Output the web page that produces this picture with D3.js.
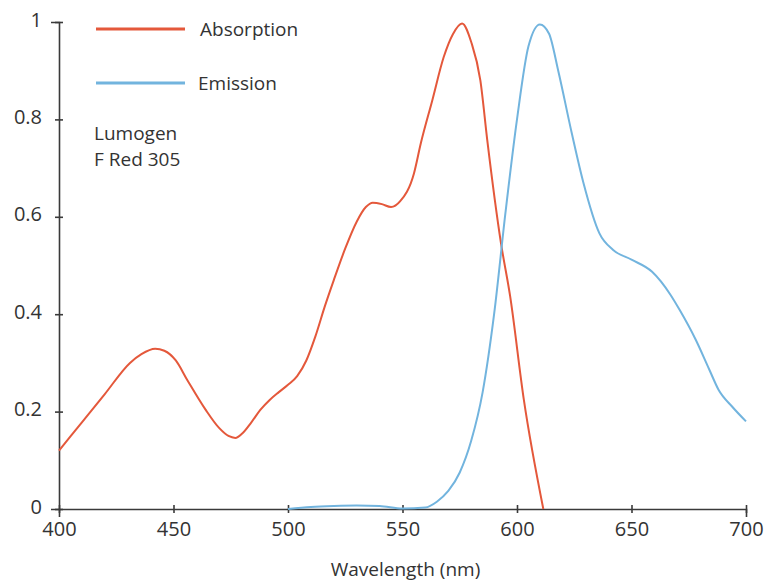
<!DOCTYPE html>
<html>
<head>
<meta charset="utf-8">
<script src="https://cdn.jsdelivr.net/npm/d3@7"></script>
<style>
  body { margin: 0; background: #fff; }
  text { font-family: "Open Sans", "Liberation Sans", Arial, sans-serif; fill: #333; }
</style>
</head>
<body>
<div id="chart"></div>
<script>
// Absorption spectrum (wavelength nm, normalised value)
const absWave = [400, 410, 420, 431, 436, 442, 446, 451, 456, 464, 470, 474, 477, 480, 484, 488, 492, 496, 500, 504, 508, 512, 516, 520, 525, 530, 534, 537, 541, 545, 549, 555, 558, 563, 568, 572, 576, 580, 584, 587, 593, 597, 603, 611.5];
const absValue = [0.12, 0.178, 0.236, 0.30, 0.318, 0.329, 0.325, 0.305, 0.265, 0.204, 0.166, 0.150, 0.146, 0.155, 0.178, 0.204, 0.224, 0.24, 0.255, 0.273, 0.305, 0.355, 0.415, 0.47, 0.535, 0.59, 0.62, 0.629, 0.626, 0.62, 0.632, 0.689, 0.751, 0.839, 0.928, 0.975, 0.997, 0.959, 0.88, 0.758, 0.546, 0.437, 0.224, 0];

// Emission spectrum
const emWave = [500, 510, 520, 530, 540, 550, 560, 565, 570, 575, 580, 585, 590, 595, 600, 605, 610, 614, 618, 624, 629, 636, 642, 650, 659, 667, 671, 678, 684, 688, 694, 700];
const emValue = [0, 0.004, 0.006, 0.007, 0.006, 0.001, 0.003, 0.015, 0.037, 0.075, 0.14, 0.24, 0.40, 0.61, 0.80, 0.95, 0.995, 0.976, 0.90, 0.77, 0.67, 0.566, 0.532, 0.512, 0.487, 0.44, 0.409, 0.348, 0.286, 0.245, 0.21, 0.18];

const xTicks = [400, 450, 500, 550, 600, 650, 700];
const yTicks = [0, 0.2, 0.4, 0.6, 0.8, 1];

const seriesNames = ["Absorption", "Emission"];
const seriesColors = ["#e4583b", "#72b4de"];

const W = 765, H = 583;
const margin = { left: 59, right: 19, top: 22, bottom: 74 };
const width = W - margin.left - margin.right;
const height = H - margin.top - margin.bottom;

const svg = d3.select("#chart").append("svg")
    .attr("width", W)
    .attr("height", H);
const g = svg.append("g")
    .attr("transform", `translate(${margin.left},${margin.top})`);

// Scales
const x = d3.scaleLinear().domain([400, 700]).range([0, width]);
const y = d3.scaleLinear().domain([0, 1]).range([height, 0]);

// Axes
const xAxis = g.append("g")
    .attr("transform", `translate(0,${height})`)
    .call(d3.axisBottom(x).tickValues(xTicks).tickSize(8).tickFormat(d3.format("d")));
xAxis.selectAll(".tick line").attr("y1", -4).attr("y2", 4);
xAxis.selectAll(".tick text").attr("y", 13).attr("dy", "0.71em");

const yAxis = g.append("g")
    .call(d3.axisLeft(y).tickValues(yTicks).tickSize(8).tickFormat(d => d === 0 || d === 1 ? d : d3.format(".1f")(d)));
yAxis.selectAll(".tick line").attr("x1", -4).attr("x2", 4);
yAxis.selectAll(".tick text").attr("x", -17).attr("dy", "0.2em");

g.selectAll(".domain").attr("stroke", "#3a3a3a").attr("stroke-width", 1.6);
g.selectAll(".tick line").attr("stroke", "#3a3a3a").attr("stroke-width", 1.6);
g.selectAll(".tick text")
    .attr("font-size", "20px")
    .attr("font-family", "Open Sans, Liberation Sans, Arial, sans-serif")
    .attr("fill", "#333");

// Axis title
g.append("text")
    .attr("x", width / 2 + 3)
    .attr("y", height + 67)
    .attr("text-anchor", "middle")
    .attr("font-size", "19px")
    .text("Wavelength (nm)");

// Lines
const line = d3.line()
    .x(d => x(d[0]))
    .y(d => y(d[1]))
    .curve(d3.curveMonotoneX);

const series = [
    absWave.map((w, i) => [w, absValue[i]]),
    emWave.map((w, i) => [w, emValue[i]])
];

g.selectAll(".series")
    .data(series)
    .enter()
    .append("path")
    .attr("class", "series")
    .attr("fill", "none")
    .attr("stroke", (d, i) => seriesColors[i])
    .attr("stroke-width", 2)
    .attr("d", line);

// Legend
const legend = svg.append("g");
seriesNames.forEach((name, i) => {
    const ly = 29 + i * 54;
    legend.append("line")
        .attr("x1", 96).attr("x2", 185)
        .attr("y1", ly).attr("y2", ly)
        .attr("stroke", seriesColors[i])
        .attr("stroke-width", 3);
    legend.append("text")
        .attr("x", i === 0 ? 200 : 198)
        .attr("y", ly + 7)
        .attr("font-size", "19px")
        .text(name);
});

// Annotation
const note = svg.append("text")
    .attr("x", 94)
    .attr("y", 140)
    .attr("font-size", "19px");
note.append("tspan").attr("x", 94).text("Lumogen");
note.append("tspan").attr("x", 94).attr("dy", 26).text("F Red 305");
</script>
</body>
</html>
